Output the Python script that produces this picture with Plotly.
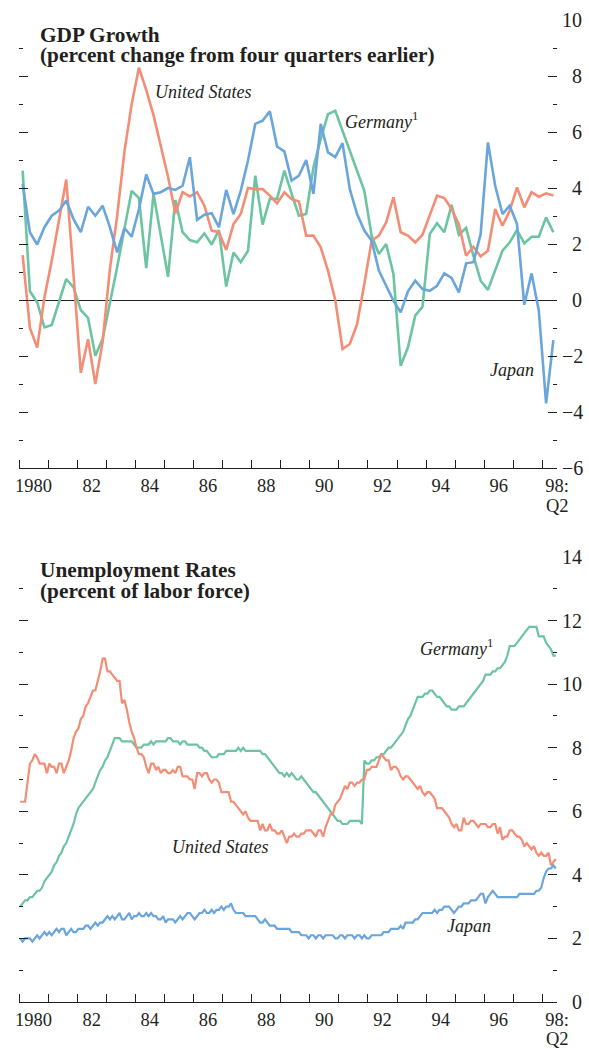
import plotly.graph_objects as go

W, H = 589, 1049

# ---------------- DATA ----------------
# GDP growth, percent change from four quarters earlier, 1980:Q1 .. 1998:Q2
gdp_us = [1.6, -1.0, -1.7, 0.1, 1.4, 2.8, 4.3, 0.9, -2.6, -1.4, -3.0, -1.5,
          1.1, 3.0, 5.3, 7.0, 8.3, 7.5, 6.6, 5.5, 4.4, 3.1, 3.85, 3.7,
          3.85, 3.37, 2.48, 2.42, 1.79, 2.71, 3.07, 4.0, 3.96, 3.96, 3.73, 3.45,
          3.85, 3.6, 3.52, 2.3, 2.3, 1.88, 1.05, 0.0, -1.75, -1.57, -0.86, 0.57,
          2.12, 2.3, 2.77, 3.67, 2.42, 2.3, 2.06, 2.33, 3.07, 3.73, 3.64, 3.25,
          2.71, 1.58, 1.9, 1.56, 1.76, 3.25, 2.65, 3.19, 4.02, 3.31, 3.85, 3.69,
          3.81, 3.73]
gdp_de = [4.62, 0.31, -0.08, -0.98, -0.89, -0.08, 0.75, 0.45, -0.36, -0.64, -1.99, -1.39,
          -0.14, 1.17, 2.54, 3.9, 3.64, 1.14, 3.79, 2.36, 0.83, 3.57, 2.42, 2.14,
          2.06, 2.38, 1.98, 2.5, 0.48, 1.7, 1.35, 1.76, 4.44, 2.69, 3.61, 3.61,
          4.62, 3.79, 3.01, 3.07, 4.74, 5.75, 6.64, 6.76, 6.05, 5.33, 4.62, 3.9,
          2.3, 1.64, 2.0, 0.93, -2.35, -1.69, -0.56, -0.24, 2.36, 2.74, 2.42, 3.4,
          2.33, 2.57, 1.58, 0.69, 0.36, 1.05, 1.76, 2.06, 2.5, 2.02, 2.26, 2.26,
          2.95, 2.42]
gdp_jp = [4.14, 2.42, 1.98, 2.6, 3.01, 3.19, 3.55, 2.89, 2.42, 3.33, 3.01, 3.37,
          2.6, 1.7, 2.57, 2.26, 3.25, 4.48, 3.79, 3.85, 4.0, 3.93, 4.08, 5.1,
          2.86, 3.05, 3.1, 2.6, 3.93, 3.07, 3.9, 4.98, 6.29, 6.4, 6.74, 5.48,
          5.31, 4.26, 4.44, 5.0, 3.79, 6.29, 5.27, 5.1, 5.6, 3.96, 3.07, 2.48,
          2.12, 1.05, 0.51, -0.02, -0.44, 0.31, 0.69, 0.39, 0.33, 0.51, 0.95, 0.79,
          0.27, 1.31, 1.35, 2.36, 5.63, 4.08, 3.07, 3.37, 2.71, -0.17, 0.95, -0.38,
          -3.69, -1.43]

# Unemployment rates, percent of labor force, monthly 1980:01 .. 1998:06
unemp_us = [
    6.3, 6.3, 6.3, 6.9, 7.5, 7.6, 7.8, 7.7, 7.5, 7.5, 7.5, 7.2,
    7.5, 7.4, 7.4, 7.2, 7.5, 7.5, 7.2, 7.4, 7.6, 7.9, 8.3, 8.5,
    8.6, 8.9, 9.0, 9.3, 9.4, 9.6, 9.8, 9.8, 10.1, 10.4, 10.8, 10.8,
    10.4, 10.4, 10.3, 10.2, 10.1, 10.1, 9.4, 9.5, 9.2, 8.8, 8.5, 8.3,
    8.0, 7.8, 7.8, 7.7, 7.4, 7.2, 7.5, 7.5, 7.3, 7.4, 7.2, 7.3,
    7.3, 7.2, 7.2, 7.3, 7.2, 7.4, 7.4, 7.1, 7.1, 7.1, 7.0, 7.0,
    6.7, 7.2, 7.2, 7.1, 7.2, 7.2, 7.0, 6.9, 7.0, 7.0, 6.9, 6.6,
    6.6, 6.6, 6.6, 6.3, 6.3, 6.2, 6.1, 6.0, 5.9, 6.0, 5.8, 5.7,
    5.7, 5.7, 5.7, 5.4, 5.6, 5.4, 5.4, 5.6, 5.4, 5.4, 5.3, 5.3,
    5.4, 5.2, 5.0, 5.2, 5.2, 5.3, 5.2, 5.2, 5.3, 5.3, 5.4, 5.4,
    5.4, 5.3, 5.2, 5.4, 5.4, 5.2, 5.5, 5.7, 5.9, 5.9, 6.2, 6.3,
    6.4, 6.6, 6.8, 6.7, 6.9, 6.9, 6.8, 6.9, 6.9, 7.0, 7.0, 7.3,
    7.3, 7.4, 7.4, 7.4, 7.6, 7.8, 7.7, 7.6, 7.6, 7.3, 7.4, 7.4,
    7.3, 7.1, 7.0, 7.1, 7.1, 7.0, 6.9, 6.8, 6.7, 6.8, 6.6, 6.5,
    6.6, 6.6, 6.5, 6.4, 6.1, 6.1, 6.1, 6.0, 5.9, 5.8, 5.6, 5.5,
    5.6, 5.4, 5.4, 5.8, 5.6, 5.6, 5.7, 5.7, 5.6, 5.5, 5.6, 5.6,
    5.6, 5.5, 5.5, 5.6, 5.6, 5.3, 5.5, 5.1, 5.2, 5.2, 5.4, 5.4,
    5.3, 5.2, 5.2, 5.1, 4.9, 5.0, 4.9, 4.8, 4.9, 4.7, 4.6, 4.7,
    4.6, 4.6, 4.7, 4.3, 4.4, 4.5]
unemp_de = [
    3.0, 3.1, 3.2, 3.2, 3.3, 3.3, 3.4, 3.5, 3.5, 3.6, 3.8, 3.9,
    4.0, 4.1, 4.3, 4.4, 4.6, 4.7, 4.9, 5.0, 5.2, 5.4, 5.6, 5.9,
    6.1, 6.2, 6.3, 6.4, 6.5, 6.6, 6.7, 6.9, 7.1, 7.3, 7.4, 7.6,
    7.7, 7.9, 8.1, 8.3, 8.3, 8.3, 8.2, 8.2, 8.2, 8.2, 8.2, 8.1,
    8.0, 8.0, 8.0, 8.1, 8.1, 8.1, 8.2, 8.1, 8.2, 8.2, 8.2, 8.2,
    8.2, 8.3, 8.3, 8.2, 8.2, 8.2, 8.1, 8.2, 8.2, 8.1, 8.1, 8.1,
    8.1, 8.1, 8.0, 8.0, 7.9, 7.9, 7.8, 7.7, 7.7, 7.7, 7.8, 7.8,
    7.8, 7.9, 7.9, 7.9, 7.9, 7.9, 8.0, 7.9, 8.0, 7.9, 7.9, 7.9,
    7.9, 7.9, 7.9, 7.9, 7.8, 7.8, 7.7, 7.6, 7.5, 7.4, 7.3, 7.2,
    7.2, 7.1, 7.2, 7.1, 7.2, 7.1, 7.0, 7.0, 7.1, 7.0, 6.9, 6.8,
    6.7, 6.6, 6.6, 6.5, 6.4, 6.3, 6.2, 6.1, 6.0, 5.9, 5.8, 5.7,
    5.7, 5.6, 5.6, 5.6, 5.7, 5.7, 5.7, 5.7, 5.7, 5.6, 7.6, 7.5,
    7.5, 7.6, 7.6, 7.7, 7.7, 7.8, 7.8, 7.9, 8.0, 8.0, 8.1, 8.2,
    8.3, 8.4, 8.5, 8.7, 8.9, 9.0, 9.2, 9.4, 9.6, 9.6, 9.6, 9.7,
    9.7, 9.8, 9.8, 9.7, 9.6, 9.6, 9.5, 9.4, 9.3, 9.3, 9.2, 9.2,
    9.2, 9.3, 9.3, 9.3, 9.4, 9.5, 9.6, 9.7, 9.8, 9.9, 10.0, 10.1,
    10.3, 10.3, 10.3, 10.4, 10.4, 10.5, 10.5, 10.6, 10.7, 10.9, 11.2, 11.2,
    11.2, 11.3, 11.4, 11.5, 11.6, 11.7, 11.8, 11.8, 11.8, 11.8, 11.5, 11.5,
    11.5, 11.3, 11.2, 11.1, 10.9, 10.9]
unemp_jp = [
    2.0, 1.9, 2.0, 2.0, 2.0, 1.9, 2.0, 2.1, 2.0, 2.1, 2.2, 2.1,
    2.2, 2.1, 2.2, 2.3, 2.2, 2.3, 2.3, 2.1, 2.2, 2.3, 2.2, 2.2,
    2.3, 2.3, 2.3, 2.4, 2.4, 2.3, 2.4, 2.5, 2.4, 2.5, 2.5, 2.6,
    2.7, 2.6, 2.7, 2.6, 2.7, 2.8, 2.6, 2.6, 2.7, 2.8, 2.6, 2.7,
    2.7, 2.8, 2.7, 2.7, 2.8, 2.7, 2.8, 2.7, 2.7, 2.6, 2.6, 2.7,
    2.5, 2.6, 2.6, 2.6, 2.5, 2.6, 2.7, 2.6, 2.7, 2.8, 2.8, 2.7,
    2.6, 2.7, 2.8, 2.8, 2.9, 2.8, 2.8, 2.9, 2.8, 2.9, 2.9, 3.0,
    2.9, 3.0, 3.0, 3.1, 2.9, 2.8, 2.8, 2.8, 2.8, 2.7, 2.7, 2.7,
    2.7, 2.7, 2.6, 2.5, 2.5, 2.6, 2.5, 2.4, 2.4, 2.4, 2.3, 2.3,
    2.3, 2.3, 2.3, 2.3, 2.2, 2.2, 2.2, 2.2, 2.1, 2.1, 2.1, 2.0,
    2.1, 2.1, 2.0, 2.1, 2.1, 2.0, 2.1, 2.1, 2.1, 2.1, 2.0, 2.0,
    2.1, 2.1, 2.0, 2.1, 2.1, 2.1, 2.0, 2.1, 2.1, 2.0, 2.1, 2.0,
    2.0, 2.1, 2.1, 2.1, 2.1, 2.1, 2.2, 2.2, 2.2, 2.3, 2.3, 2.3,
    2.3, 2.4, 2.3, 2.5, 2.5, 2.5, 2.5, 2.6, 2.6, 2.7, 2.8, 2.8,
    2.8, 2.8, 2.8, 2.9, 2.8, 2.9, 2.9, 3.0, 3.0, 3.0, 2.9, 2.8,
    2.9, 3.0, 3.0, 3.1, 3.1, 3.1, 3.2, 3.2, 3.2, 3.3, 3.4, 3.4,
    3.1, 3.3, 3.4, 3.5, 3.4, 3.3, 3.3, 3.3, 3.3, 3.3, 3.3, 3.3,
    3.3, 3.3, 3.4, 3.4, 3.4, 3.4, 3.4, 3.4, 3.4, 3.5, 3.5, 3.6,
    3.9, 4.1, 4.2, 4.2, 4.3, 4.2]

year_ticks = [1980.5, 1982.5, 1984.5, 1986.5, 1988.5, 1990.5, 1992.5, 1994.5, 1996.5, 1998.5]
year_labels = ["1980", "82", "84", "86", "88", "90", "92", "94", "96", "98:"]
last_period_label = "Q2"
gdp_ticks = [-6, -4, -2, 0, 2, 4, 6, 8, 10]
un_ticks = [0, 2, 4, 6, 8, 10, 12, 14]

# time positions (decimal years, mid-period)
gdp_x = [1980 + (i + 0.5) / 4 for i in range(len(gdp_us))]
un_x = [1980 + (i + 0.5) / 12 for i in range(len(unemp_us))]

# ---------------- STYLE ----------------
C_US = "#F38D76"
C_DE = "#6CC4A0"
C_JP = "#6AA5DC"
INK = "#231f20"
SERIF = "Liberation Serif"
FIG = "\u2007"


def px(x):
    return x / W


def py(y):
    return 1 - y / H


def lab(v):
    s = str(v) if v >= 0 else "\u2212" + str(-v)
    return (FIG + s) if len(s) == 1 else s


fig = go.Figure()
for ys, c in [(gdp_de, C_DE), (gdp_us, C_US), (gdp_jp, C_JP)]:
    fig.add_trace(go.Scatter(x=gdp_x, y=ys, mode="lines", line=dict(color=c, width=2.6),
                             xaxis="x", yaxis="y", showlegend=False, hoverinfo="skip"))
for ys, c in [(unemp_de, C_DE), (unemp_us, C_US), (unemp_jp, C_JP)]:
    fig.add_trace(go.Scatter(x=un_x, y=ys, mode="lines", line=dict(color=c, width=2.2),
                             xaxis="x2", yaxis="y2", showlegend=False, hoverinfo="skip"))

xcommon = dict(range=[1980, 1998.5], tickmode="array", tickvals=year_ticks, ticktext=year_labels,
               ticks="", showgrid=False, zeroline=False, showline=True, linecolor=INK, linewidth=1,
               tickfont=dict(family=SERIF, size=18.5, color=INK), ticklabelstandoff=1,
               minor=dict(tickmode="linear", tick0=1980, dtick=1, ticks="inside", ticklen=8,
                          tickwidth=1.2, tickcolor=INK, showgrid=False),
               domain=[px(19), px(557)], fixedrange=True)

ycommon = dict(side="right", tickmode="array", ticks="inside", ticklen=9, tickwidth=1.2,
               tickcolor=INK, mirror="ticks", showline=False, showgrid=False,
               tickfont=dict(family=SERIF, size=20, color=INK), ticklabelstandoff=4,
               fixedrange=True)

fig.update_layout(
    width=W, height=H, margin=dict(l=0, r=0, t=0, b=0),
    paper_bgcolor="white", plot_bgcolor="white", template="none", showlegend=False,
    xaxis=dict(anchor="y", **xcommon),
    yaxis=dict(anchor="x", domain=[py(468), py(20)], range=[-6, 10],
               tickvals=gdp_ticks, ticktext=[lab(v) for v in gdp_ticks],
               zeroline=True, zerolinecolor=INK, zerolinewidth=1,
               minor=dict(tickmode="array", tickvals=[-5, -3, -1, 1, 3, 5, 7, 9], ticks="inside",
                          ticklen=4, tickwidth=1.2, tickcolor=INK, showgrid=False),
               **ycommon),
    xaxis2=dict(anchor="y2", **xcommon),
    yaxis2=dict(anchor="x2", domain=[py(1002), py(557)], range=[0, 14],
                tickvals=un_ticks, ticktext=[lab(v) for v in un_ticks], zeroline=False,
                minor=dict(tickmode="array", tickvals=[1, 3, 5, 7, 9, 11, 13], ticks="inside",
                           ticklen=4, tickwidth=1.2, tickcolor=INK, showgrid=False),
                **ycommon),
)


def note(text, x, y, size, bold=False, italic=False):
    fig.add_annotation(text=text, x=px(x), y=py(y), xref="paper", yref="paper",
                       xanchor="left", yanchor="middle", showarrow=False,
                       font=dict(family=SERIF, size=size, color=INK,
                                 weight="bold" if bold else "normal",
                                 style="italic" if italic else "normal"))


SUP1 = "<sup><span style='font-style:normal'>1</span></sup>"

note("GDP Growth", 38, 35, 21.3, bold=True)
note("(percent change from four quarters earlier)", 38, 55, 21.3, bold=True)
note("Unemployment Rates", 38, 570, 21.3, bold=True)
note("(percent of labor force)", 38, 591, 21.3, bold=True)

note("United States", 153, 92, 18, italic=True)
note("Germany" + SUP1, 343, 121, 18, italic=True)
note("Japan", 488, 370, 18, italic=True)
note("Germany" + SUP1, 418, 647, 18, italic=True)
note("United States", 170, 847, 18, italic=True)
note("Japan", 445, 926, 18, italic=True)

# second line of the last x-axis label ("98:" / "Q2") under each chart
for xr, ycen in [("x", 506), ("x2", 1039)]:
    fig.add_annotation(text=last_period_label, x=year_ticks[-1], xref=xr, y=py(ycen), yref="paper",
                       xanchor="center", yanchor="middle", showarrow=False,
                       font=dict(family=SERIF, size=18.5, color=INK))

fig.write_html("out.html", post_script="document.body.style.margin='0';",
               config={"displayModeBar": False})
